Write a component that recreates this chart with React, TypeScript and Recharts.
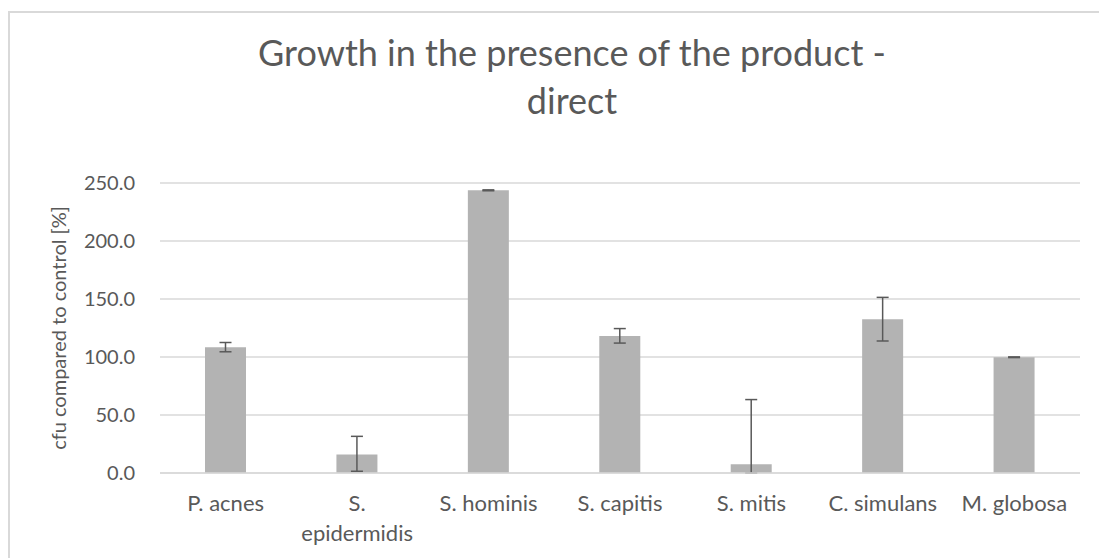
import React from 'react';
import { Bar, BarChart, CartesianGrid, ErrorBar, XAxis, YAxis } from 'recharts';

const categories = ['P. acnes', 'S. epidermidis', 'S. hominis', 'S. capitis', 'S. mitis', 'C. simulans', 'M. globosa'];
const growth = [108.3, 16.0, 243.7, 118.2, 7.5, 132.5, 99.8];
const errLow = [3.8, 14.5, 0.4, 6.2, 7.5, 18.7, 0.3];
const errHigh = [4.2, 15.6, 0.4, 6.3, 55.8, 18.9, 0.3];
const yTicks = [0, 50, 100, 150, 200, 250];

const FONT = 'Lato, "Open Sans", sans-serif';
const TEXT_COLOR = '#595959';
const GRID_COLOR = '#d9d9d9';

const data = categories.map((name, i) => ({
    name,
    value: growth[i],
    err: [errLow[i], errHigh[i]],
}));

const CHART_MARGIN = { top: 183, right: 19, left: 10, bottom: 25 };
const Y_TICK_STYLE = { fill: TEXT_COLOR, fontSize: 20, fontFamily: FONT };

// eslint-disable-next-line @typescript-eslint/no-explicit-any
const CategoryTick = (props: any) => {
    const { x, y, payload } = props;
    const label: string = payload.value;
    // long names wrap onto two lines like in the original sheet
    const lines = label.length > 12 ? [label.slice(0, label.indexOf(' ')), label.slice(label.indexOf(' ') + 1)] : [label];
    return (
        <text x={x} y={y} textAnchor="middle" fill={TEXT_COLOR} fontSize={22} fontFamily={FONT}>
            {lines.map((line) => (
                <tspan key={line} x={x} dy={30}>{line}</tspan>
            ))}
        </text>
    );
};

const App: React.FC = () => {
    const formatTick = React.useCallback((v: number) => v.toFixed(1), []);

    return (
        <div style={{ position: 'absolute', left: 0, top: 0, width: 1099, height: 558, overflow: 'hidden', background: '#fff' }}>
            <div
                style={{
                    position: 'absolute', left: 8, top: 11, width: 1100, height: 560,
                    borderLeft: `2px solid ${GRID_COLOR}`, borderTop: `2px solid ${GRID_COLOR}`,
                }}
            />
            <div
                style={{
                    position: 'absolute', left: 172, top: 28, width: 800, textAlign: 'center',
                    fontFamily: FONT, fontSize: 36, lineHeight: '48px', color: TEXT_COLOR,
                }}
            >
                Growth in the presence of the product -<br />direct
            </div>
            <div style={{ position: 'absolute', left: 0, top: 0 }}>
                <BarChart width={1099} height={558} data={data} margin={CHART_MARGIN}>
                    <CartesianGrid stroke={GRID_COLOR} strokeWidth={1.5} vertical={false} />
                    <XAxis
                        dataKey="name"
                        axisLine={{ stroke: GRID_COLOR, strokeWidth: 1.5 }}
                        tickLine={false}
                        tick={<CategoryTick />}
                        interval={0}
                        height={60}
                    />
                    <YAxis
                        domain={[0, 250]}
                        ticks={yTicks}
                        axisLine={false}
                        tickLine={false}
                        tick={Y_TICK_STYLE}
                        tickFormatter={formatTick}
                        tickMargin={19}
                        width={150}
                        label={{
                            value: 'cfu compared to control [%]',
                            angle: -90,
                            position: 'center',
                            dx: -26,
                            fill: TEXT_COLOR,
                            fontSize: 20,
                            fontFamily: FONT,
                        }}
                    />
                    <Bar dataKey="value" fill="#b3b3b3" barSize={41} isAnimationActive={false}>
                        <ErrorBar dataKey="err" stroke={TEXT_COLOR} strokeWidth={1.5} width={6} isAnimationActive={false} />
                    </Bar>
                </BarChart>
            </div>
        </div>
    );
};

export default App;
